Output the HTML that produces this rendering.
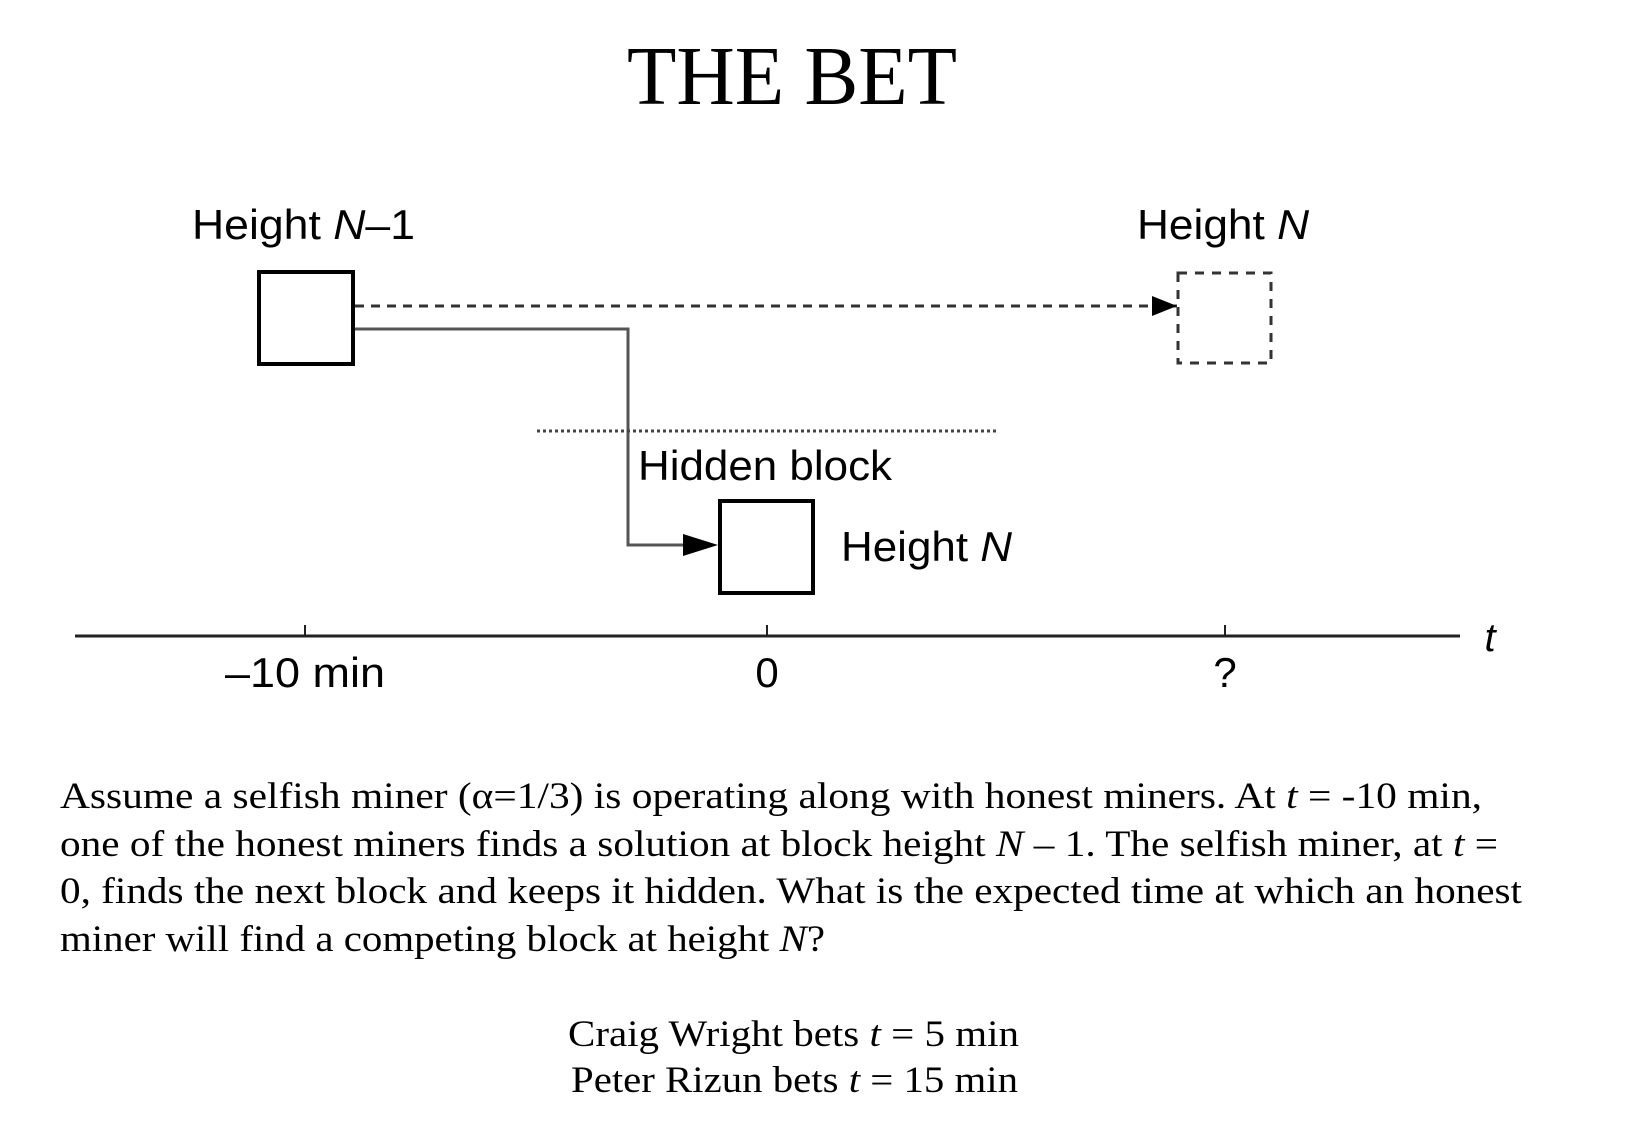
<!DOCTYPE html>
<html><head><meta charset="utf-8"><style>
html,body{margin:0;padding:0;background:#fff;}
svg{display:block;}
.serif{font-family:"Liberation Serif",serif;}
.sans{font-family:"Liberation Sans",sans-serif;}
</style></head><body>
<svg width="1640" height="1148" viewBox="0 0 1640 1148" xmlns="http://www.w3.org/2000/svg">
<text class="serif" x="792" y="104" font-size="84" text-anchor="middle" textLength="330" lengthAdjust="spacingAndGlyphs">THE BET</text>

<text class="sans" x="192" y="239" font-size="42" textLength="223" lengthAdjust="spacingAndGlyphs">Height <tspan font-style="italic">N</tspan>–1</text>
<text class="sans" x="1137" y="239" font-size="42" textLength="172" lengthAdjust="spacingAndGlyphs">Height <tspan font-style="italic">N</tspan></text>

<rect x="259" y="272" width="94" height="92" fill="none" stroke="#000" stroke-width="4"/>
<line x1="355" y1="306" x2="1177" y2="306" stroke="#333" stroke-width="3" stroke-dasharray="9,7"/>
<path d="M1152,296 L1177,306 L1152,316 z" fill="#000"/>
<rect x="1178" y="273" width="93" height="90" fill="none" stroke="#333" stroke-width="3" stroke-dasharray="9,8"/>

<polyline points="355,329 628,329 628,545 697,545" fill="none" stroke="#555" stroke-width="3"/>
<path d="M683,534 L718,545 L683,556 z" fill="#000"/>

<line x1="537" y1="431" x2="999" y2="431" stroke="#444" stroke-width="3" stroke-dasharray="3,3"/>
<text class="sans" x="638" y="480" font-size="42" textLength="254" lengthAdjust="spacingAndGlyphs">Hidden block</text>

<rect x="720" y="501" width="93" height="92" fill="none" stroke="#000" stroke-width="4"/>
<text class="sans" x="841" y="561" font-size="42" textLength="171" lengthAdjust="spacingAndGlyphs">Height <tspan font-style="italic">N</tspan></text>

<line x1="75" y1="636" x2="1460" y2="636" stroke="#222" stroke-width="3"/>
<line x1="305" y1="625" x2="305" y2="636" stroke="#222" stroke-width="2"/>
<line x1="767" y1="625" x2="767" y2="636" stroke="#222" stroke-width="2"/>
<line x1="1225" y1="625" x2="1225" y2="636" stroke="#222" stroke-width="2"/>
<text class="sans" x="1490" y="651" font-size="40" font-style="italic" text-anchor="middle">t</text>
<text class="sans" x="305" y="687" font-size="42" text-anchor="middle" textLength="160" lengthAdjust="spacingAndGlyphs">–10 min</text>
<text class="sans" x="767" y="687" font-size="42" text-anchor="middle">0</text>
<text class="sans" x="1225" y="687" font-size="42" text-anchor="middle">?</text>

<g class="serif" font-size="37">
<text x="60" y="808" textLength="1422" lengthAdjust="spacingAndGlyphs">Assume a selfish miner (α=1/3) is operating along with honest miners.  At <tspan font-style="italic">t</tspan> = -10 min,</text>
<text x="60" y="856" textLength="1438" lengthAdjust="spacingAndGlyphs">one of the honest miners finds a solution at block height <tspan font-style="italic">N</tspan> – 1.  The selfish miner, at <tspan font-style="italic">t</tspan> =</text>
<text x="60" y="903" textLength="1462" lengthAdjust="spacingAndGlyphs">0, finds the next block and keeps it hidden.  What is the expected time at which an honest</text>
<text x="60" y="951" textLength="765" lengthAdjust="spacingAndGlyphs">miner will find a competing block at height <tspan font-style="italic">N</tspan>?</text>
</g>
<text class="serif" x="568" y="1046" font-size="37" textLength="451" lengthAdjust="spacingAndGlyphs">Craig Wright bets <tspan font-style="italic">t</tspan> = 5 min</text>
<text class="serif" x="571" y="1092" font-size="37" textLength="447" lengthAdjust="spacingAndGlyphs">Peter Rizun bets <tspan font-style="italic">t</tspan> = 15 min</text>
</svg>
</body></html>
